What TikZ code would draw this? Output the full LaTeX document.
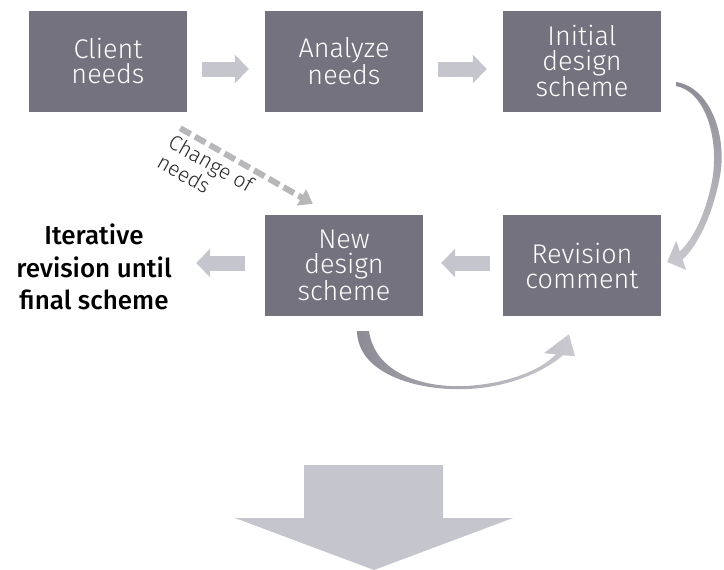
\documentclass[tikz,border=0pt]{standalone}
\usepackage{fontspec}
\setmainfont{Fira Sans Light}
\newfontfamily\mediumfont{Fira Sans Medium}
\usepackage{xcolor}
\usepackage{tikz}
\usetikzlibrary{arrows.meta}
\definecolor{boxgray}{HTML}{73727E}
\definecolor{arrowgray}{HTML}{C5C6CD}
\definecolor{dashgray}{HTML}{B7B7BA}
\definecolor{curvedark}{HTML}{8D8C96}
\definecolor{curvelight}{HTML}{CACAD0}

\begin{document}
\begin{tikzpicture}[x=1pt,y=-1pt,
		stage/.style={fill=boxgray, text=white, minimum width=158pt, minimum height=101pt,
			inner sep=0pt, align=center, font=\fontsize{27}{25}\selectfont},
		blockarrow/.style={draw=arrowgray, line width=15pt, -{Triangle[length=14pt,width=28pt]}},
		dashline/.style={draw=dashgray, line width=6pt, dash pattern=on 12pt off 5pt,
			-{Triangle[length=13pt,width=18pt]}}]
		\useasboundingbox (0,0) rectangle (724,570);
		
		\node[stage] (client) at (108,61) {Client\\needs};
		\node[stage] (analyze) at (344,61) {Analyze\\needs};
		\node[stage] (initial) at (582,61) {Initial\\design\\scheme};
		\node[stage] (newdesign) at (344,265.5) {New\\design\\scheme};
		\node[stage] (revision) at (582,265.5) {Revision\\comment};
		\node[align=center, font=\mediumfont\fontsize{26}{32.5}\selectfont] (final) at (94,267) {Iterative\\revision until\\final scheme};
		
		\draw[blockarrow, shorten <=15pt, shorten >=16pt] ([yshift=-8pt]client.east) -- ([yshift=-8pt]analyze.west);
		\draw[blockarrow, shorten <=15pt, shorten >=16pt] ([yshift=-8pt]analyze.east) -- ([yshift=-8pt]initial.west);
		\draw[blockarrow, shorten <=13pt, shorten >=18pt] ([yshift=2.5pt]revision.west) -- ([yshift=2.5pt]newdesign.east);
		\draw[blockarrow, shorten <=20pt, shorten >=21pt] ([yshift=2.5pt]newdesign.west) -- ([yshift=2.5pt]newdesign.west -| final.east);
		
		\draw[dashline] ([shift={(-7pt,-16.5pt)}]client.south east) -- node[sloped, pos=0.29, below=3pt, inner sep=1pt, align=left, text=black!85, font=\fontsize{21}{23}\selectfont] (change) {Change of\\needs} ([shift={(48pt,11pt)}]newdesign.north west);
		
		% initial -> revision
		\begin{scope}[shift={(initial.east)}]
			\shade[top color=curvedark, bottom color=curvelight] (15,21) .. controls (51,27) and (67,79) .. (58,119)
				.. controls (51,154) and (37,184) .. (21.4,198.6) -- (25,209) -- (6,201) -- (15,180) -- (18.6,190.4)
				.. controls (33,177) and (45,151) .. (51,119) .. controls (58,79) and (45,31) .. (15,25) -- cycle;
		\end{scope}
		
		% new design -> revision
		\begin{scope}[shift={(newdesign.south)}]
			\shade[left color=curvedark, middle color=white!70!curvelight, right color=curvelight] (13,15) .. controls (14,57) and (71,74) .. (119,73)
				.. controls (164,72) and (201,55) .. (219,39) -- (231,40) -- (225,18) -- (200,37) -- (212,38)
				.. controls (196,55) and (161,68) .. (119,70) .. controls (74,71) and (31,55) .. (25,15) -- cycle;
		\end{scope}
		
		\fill[arrowgray] (304,465) -- (443,465) -- (443,518) -- (513,518) -- (374,570) -- (235,518) -- (304,518) -- cycle;
	\end{tikzpicture}
\end{document}
